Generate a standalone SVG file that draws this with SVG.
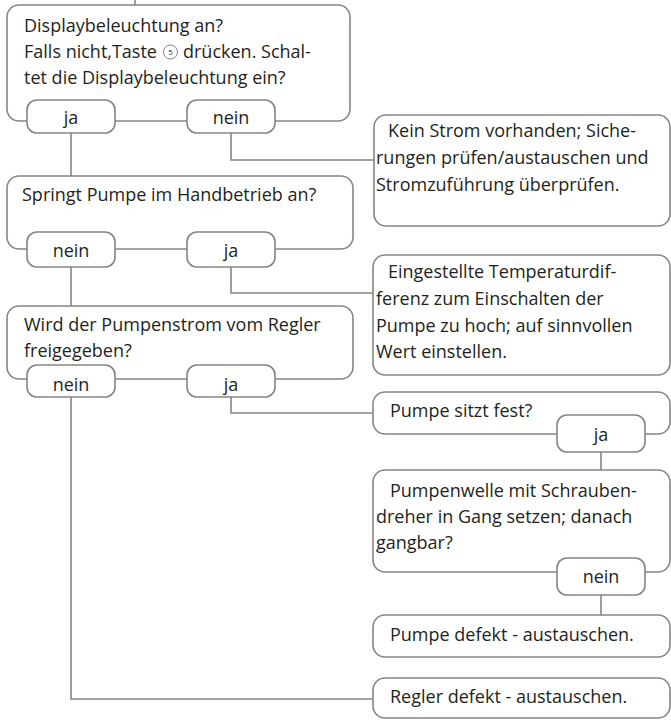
<svg xmlns="http://www.w3.org/2000/svg" width="671" height="720" viewBox="0 0 671 720">
<style>
.box{fill:#fff;stroke:#858585;stroke-width:1.6}
.pill{fill:#fff;stroke:#858585;stroke-width:1.6}
.ln{fill:none;stroke:#858585;stroke-width:1.6}
text{font-family:"Open Sans",Lato,"Liberation Sans",sans-serif;font-size:18px;fill:#231f20}
.c{text-anchor:middle}
</style>
<rect width="671" height="720" fill="#fff"/>
<g id="connectors">
<path class="ln" d="M135,0 V5"/>
<path class="ln" d="M71,133 V176"/>
<path class="ln" d="M231,133 V160 H374"/>
<path class="ln" d="M71,267 V306"/>
<path class="ln" d="M231,267 V293 H373"/>
<path class="ln" d="M71,397 V699 H373"/>
<path class="ln" d="M231,397 V413 H373"/>
<path class="ln" d="M601,452 V470"/>
<path class="ln" d="M601,595 V615"/>
</g>
<g id="n1">
<rect class="box" x="7" y="5" width="343" height="116" rx="12"/>
<text x="24" y="32">Displaybeleuchtung an?</text>
<text x="24" y="58">Falls nicht,Taste</text>
<circle cx="170.5" cy="52" r="7" fill="#fff" stroke="#858585" stroke-width="1"/>
<text x="170.5" y="55" class="c" style="font-size:8px">5</text>
<text x="183" y="58">drücken. Schal-</text>
<text x="24" y="84">tet die Displaybeleuchtung ein?</text>
</g>
<g id="n1-ja"><rect class="pill" x="27" y="100" width="88" height="33" rx="10"/><text x="71" y="124" class="c">ja</text></g>
<g id="n1-nein"><rect class="pill" x="187" y="100" width="88" height="33" rx="10"/><text x="231" y="124" class="c">nein</text></g>
<g id="n2">
<rect class="box" x="374" y="115" width="296" height="111" rx="12"/>
<text x="388" y="137">Kein Strom vorhanden; Siche-</text>
<text x="376" y="164">rungen prüfen/austauschen und</text>
<text x="376" y="191">Stromzuführung überprüfen.</text>
</g>
<g id="n3">
<rect class="box" x="7" y="176" width="346" height="73" rx="12"/>
<text x="22" y="201">Springt Pumpe im Handbetrieb an?</text>
</g>
<g id="n3-nein"><rect class="pill" x="27" y="232" width="88" height="35" rx="10"/><text x="71" y="257" class="c">nein</text></g>
<g id="n3-ja"><rect class="pill" x="187" y="232" width="88" height="35" rx="10"/><text x="231" y="257" class="c">ja</text></g>
<g id="n4">
<rect class="box" x="373" y="255" width="297" height="120" rx="12"/>
<text x="388" y="278">Eingestellte Temperaturdif-</text>
<text x="376" y="305">ferenz zum Einschalten der</text>
<text x="376" y="332">Pumpe zu hoch; auf sinnvollen</text>
<text x="376" y="358">Wert einstellen.</text>
</g>
<g id="n5">
<rect class="box" x="7" y="306" width="346" height="73" rx="12"/>
<text x="24" y="331">Wird der Pumpenstrom vom Regler</text>
<text x="24" y="357">freigegeben?</text>
</g>
<g id="n5-nein"><rect class="pill" x="27" y="365" width="88" height="32" rx="10"/><text x="71" y="391" class="c">nein</text></g>
<g id="n5-ja"><rect class="pill" x="187" y="365" width="88" height="32" rx="10"/><text x="231" y="391" class="c">ja</text></g>
<g id="n6">
<rect class="box" x="373" y="392" width="297" height="42" rx="12"/>
<text x="390" y="417">Pumpe sitzt fest?</text>
</g>
<g id="n6-ja"><rect class="pill" x="557" y="415" width="88" height="37" rx="10"/><text x="601" y="441" class="c">ja</text></g>
<g id="n7">
<rect class="box" x="373" y="470" width="297" height="102" rx="12"/>
<text x="390" y="497">Pumpenwelle mit Schrauben-</text>
<text x="376" y="523">dreher in Gang setzen; danach</text>
<text x="376" y="549">gangbar?</text>
</g>
<g id="n7-nein"><rect class="pill" x="557" y="558" width="88" height="37" rx="10"/><text x="601" y="583" class="c">nein</text></g>
<g id="n8">
<rect class="box" x="373" y="615" width="297" height="42" rx="12"/>
<text x="390" y="641">Pumpe defekt - austauschen.</text>
</g>
<g id="n9">
<rect class="box" x="373" y="678" width="297" height="40" rx="12"/>
<text x="390" y="703">Regler defekt - austauschen.</text>
</g>
</svg>
